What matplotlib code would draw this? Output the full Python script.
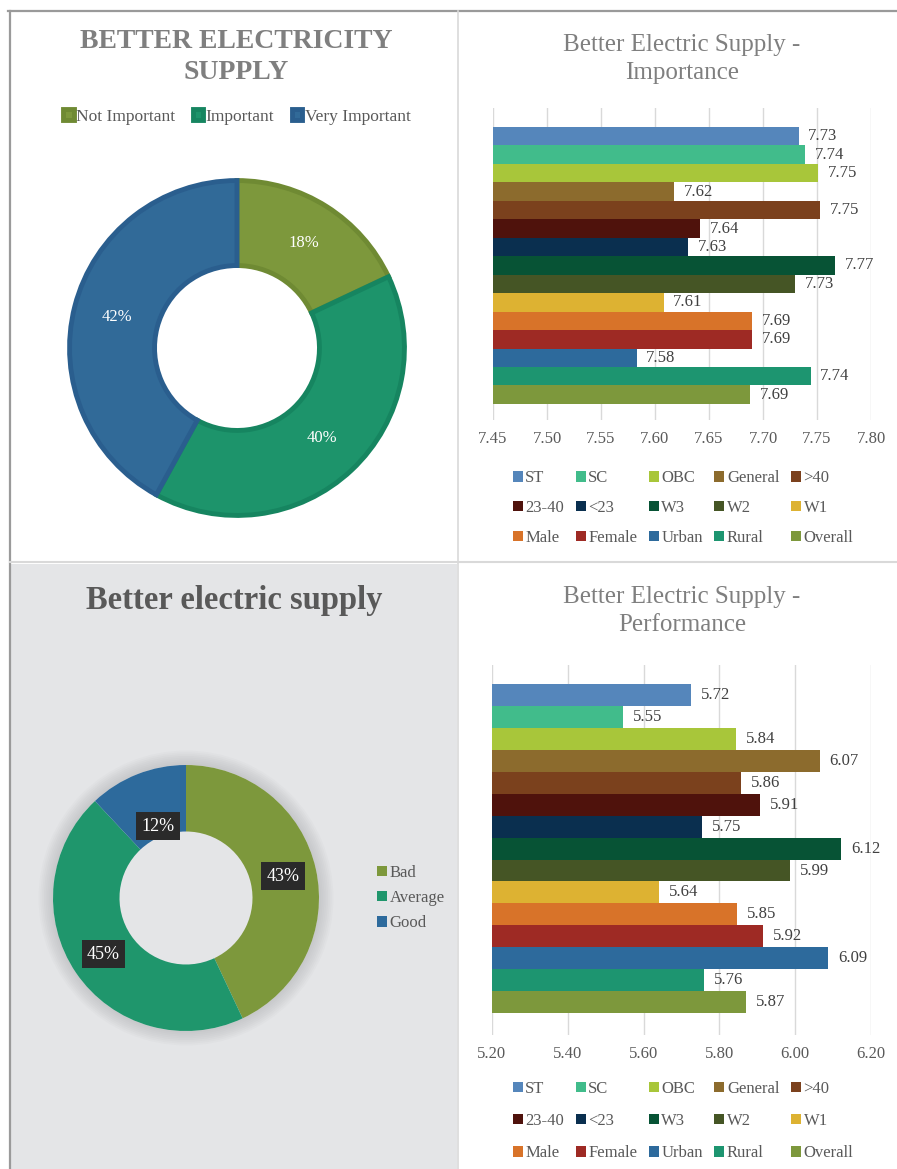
import numpy as np
import matplotlib
matplotlib.use("Agg")
import matplotlib.pyplot as plt
from matplotlib.patches import Rectangle, Wedge
from matplotlib.lines import Line2D

plt.rcParams['font.family'] = ['Liberation Serif', 'DejaVu Serif']

# ---- data ----
imp_labels = ['Not Important', 'Important', 'Very Important']
imp_share = [18, 40, 42]

perf_labels = ['Bad', 'Average', 'Good']
perf_share = [43, 45, 12]

groups = ['ST', 'SC', 'OBC', 'General', '>40', '23-40', '<23', 'W3', 'W2', 'W1',
          'Male', 'Female', 'Urban', 'Rural', 'Overall']
importance = [7.733, 7.739, 7.751, 7.618, 7.753, 7.642, 7.631, 7.767, 7.730, 7.608,
              7.690, 7.690, 7.583, 7.744, 7.688]
performance = [5.725, 5.546, 5.844, 6.065, 5.857, 5.907, 5.754, 6.121, 5.986, 5.641,
               5.846, 5.915, 6.087, 5.759, 5.870]
imp_ticks = [7.45, 7.50, 7.55, 7.60, 7.65, 7.70, 7.75, 7.80]
perf_ticks = [5.20, 5.40, 5.60, 5.80, 6.00, 6.20]

group_colors = ['#5586BB', '#41BC8B', '#A8C63A', '#8C6B2D', '#7B411D', '#4F120C',
                '#0A2F4F', '#075335', '#455525', '#DDB232', '#D87329', '#9E2A24',
                '#2D6A9C', '#1D9570', '#7D983C']
imp_colors = ['#7D983C', '#1D946B', '#316A98']
imp_edges = ['#6F8A33', '#168560', '#2A5E8E']
perf_colors = ['#7D983C', '#1F966C', '#2D6A9C']

W, H = 897, 1169
fig = plt.figure(figsize=(W / 100, H / 100), dpi=100)


def px_axes(x0, y0, x1, y1, **kw):
    return fig.add_axes([x0 / W, 1 - y1 / H, (x1 - x0) / W, (y1 - y0) / H], **kw)


def fx(x):
    return x / W


def fy(y):
    return 1 - y / H


# ---- panel backgrounds and borders ----
fig.add_artist(Rectangle((fx(10), fy(1169)), fx(447), (1169 - 564) / H,
                         transform=fig.transFigure, facecolor='#E4E5E7', edgecolor='none', zorder=0))
fig.add_artist(Line2D([fx(8), fx(897)], [fy(11), fy(11)], color='#9A9A9A', lw=1.6))
fig.add_artist(Line2D([fx(9.5), fx(9.5)], [fy(11), fy(1169)], color='#9A9A9A', lw=1.6))
fig.add_artist(Line2D([fx(458), fx(458)], [fy(11), fy(1169)], color='#D9D9D9', lw=1.2))
fig.add_artist(Line2D([fx(10), fx(897)], [fy(562), fy(562)], color='#D9D9D9', lw=1.5))

grey = '#7F7F7F'

# ---- top-left donut ----
fig.text(fx(236), fy(57), 'BETTER ELECTRICITY\nSUPPLY', ha='center', va='center',
         fontsize=20, fontweight='bold', color=grey, linespacing=1.3)
R = 170
ax1 = px_axes(237 - R, 348 - R, 237 + R, 348 + R)
wedges, texts, autotexts = ax1.pie(imp_share, startangle=90, counterclock=False,
                                   colors=imp_colors, radius=0.985,
                                   wedgeprops=dict(width=0.5, linewidth=3.5),
                                   autopct='%d%%', pctdistance=0.74,
                                   textprops=dict(color='white', fontsize=12))
for w, ec in zip(wedges, imp_edges):
    w.set_edgecolor(ec)
ax1.set_xlim(-1, 1)
ax1.set_ylim(-1, 1)
ax1.set_aspect('equal')
ax1.axis('off')
fig.legend(wedges, imp_labels, loc='center', bbox_to_anchor=(fx(237), fy(117)), ncol=3,
           frameon=False, fontsize=12.5, handlelength=0.6, handleheight=0.6,
           handletextpad=0.15, columnspacing=1.0, labelcolor='#595959')


# ---- bar charts ----
def bar_panel(box, values, ticks, lims, ylims, title, title_y, legend_y, lspace):
    ax = px_axes(*box)
    y = np.arange(len(groups))
    bars = ax.barh(y, [v - lims[0] for v in values], left=lims[0], height=1.0,
                   color=group_colors, zorder=3)
    ax.bar_label(bars, labels=[f'{v:.2f}' for v in values], padding=7,
                 fontsize=12, color='#404040')
    ax.set_xlim(*lims)
    ax.set_ylim(*ylims)
    ax.set_xticks(ticks)
    ax.set_xticklabels([f'{t:.2f}' for t in ticks], fontsize=12, color='#595959')
    ax.tick_params(axis='x', length=0, pad=8)
    ax.set_yticks([])
    ax.grid(axis='x', color='#D9D9D9', lw=1)
    for s in ax.spines.values():
        s.set_visible(False)
    fig.text(fx(682), fy(title_y), title, ha='center', va='center', fontsize=18,
             color=grey, linespacing=1.3)
    order = [j + 5 * i for j in range(5) for i in range(3)]
    fig.legend([bars[k] for k in order], [groups[k] for k in order], loc='center',
               bbox_to_anchor=(fx(683), fy(legend_y)), ncol=5, frameon=False,
               fontsize=12, handlelength=0.6, handleheight=0.6, handletextpad=0.15,
               columnspacing=0.7, labelspacing=lspace, labelcolor='#595959')
    return ax


bar_panel((493, 108, 871, 420), importance, imp_ticks, (7.45, 7.80), (15.37, -1.53),
          'Better Electric Supply -\nImportance', 59, 508, 0.82)
bar_panel((492, 665, 871, 1035), performance, perf_ticks, (5.20, 6.20), (15.5, -1.37),
          'Better Electric Supply -\nPerformance', 611, 1121, 0.97)

# ---- bottom-left donut ----
fig.text(fx(234), fy(601), 'Better electric supply', ha='center', va='center',
         fontsize=23.5, fontweight='bold', color='#595959')
R2 = 150
ax2 = px_axes(186 - R2, 898 - R2, 186 + R2, 898 + R2)
r_out = 133 / R2
for k in range(1, 9):
    ax2.add_patch(Wedge((0, 0), r_out + k * 0.012, 0, 360, width=k * 0.012,
                        facecolor='#9A9CA0', edgecolor='none', alpha=0.05, zorder=0))
wedges2, _ = ax2.pie(perf_share, startangle=90, counterclock=False, colors=perf_colors,
                     radius=r_out, wedgeprops=dict(width=r_out * 0.5, linewidth=0))
label_dist = [0.75, 0.75, 0.58]
for w, pct, d in zip(wedges2, perf_share, label_dist):
    ang = np.deg2rad((w.theta1 + w.theta2) / 2)
    ax2.text(d * r_out * np.cos(ang), d * r_out * np.sin(ang), f'{pct}%', ha='center',
             va='center', color='white', fontsize=13, zorder=5,
             bbox=dict(boxstyle='square,pad=0.3', facecolor='#2A2A2A', edgecolor='none'))
ax2.set_xlim(-1, 1)
ax2.set_ylim(-1, 1)
ax2.set_aspect('equal')
ax2.axis('off')
fig.legend(wedges2, perf_labels, loc='center left', bbox_to_anchor=(fx(362), fy(898)),
           ncol=1, frameon=False, fontsize=12, handlelength=0.6, handleheight=0.6,
           handletextpad=0.15, labelspacing=0.55, labelcolor='#595959')

fig.savefig('out.png', dpi=100)
